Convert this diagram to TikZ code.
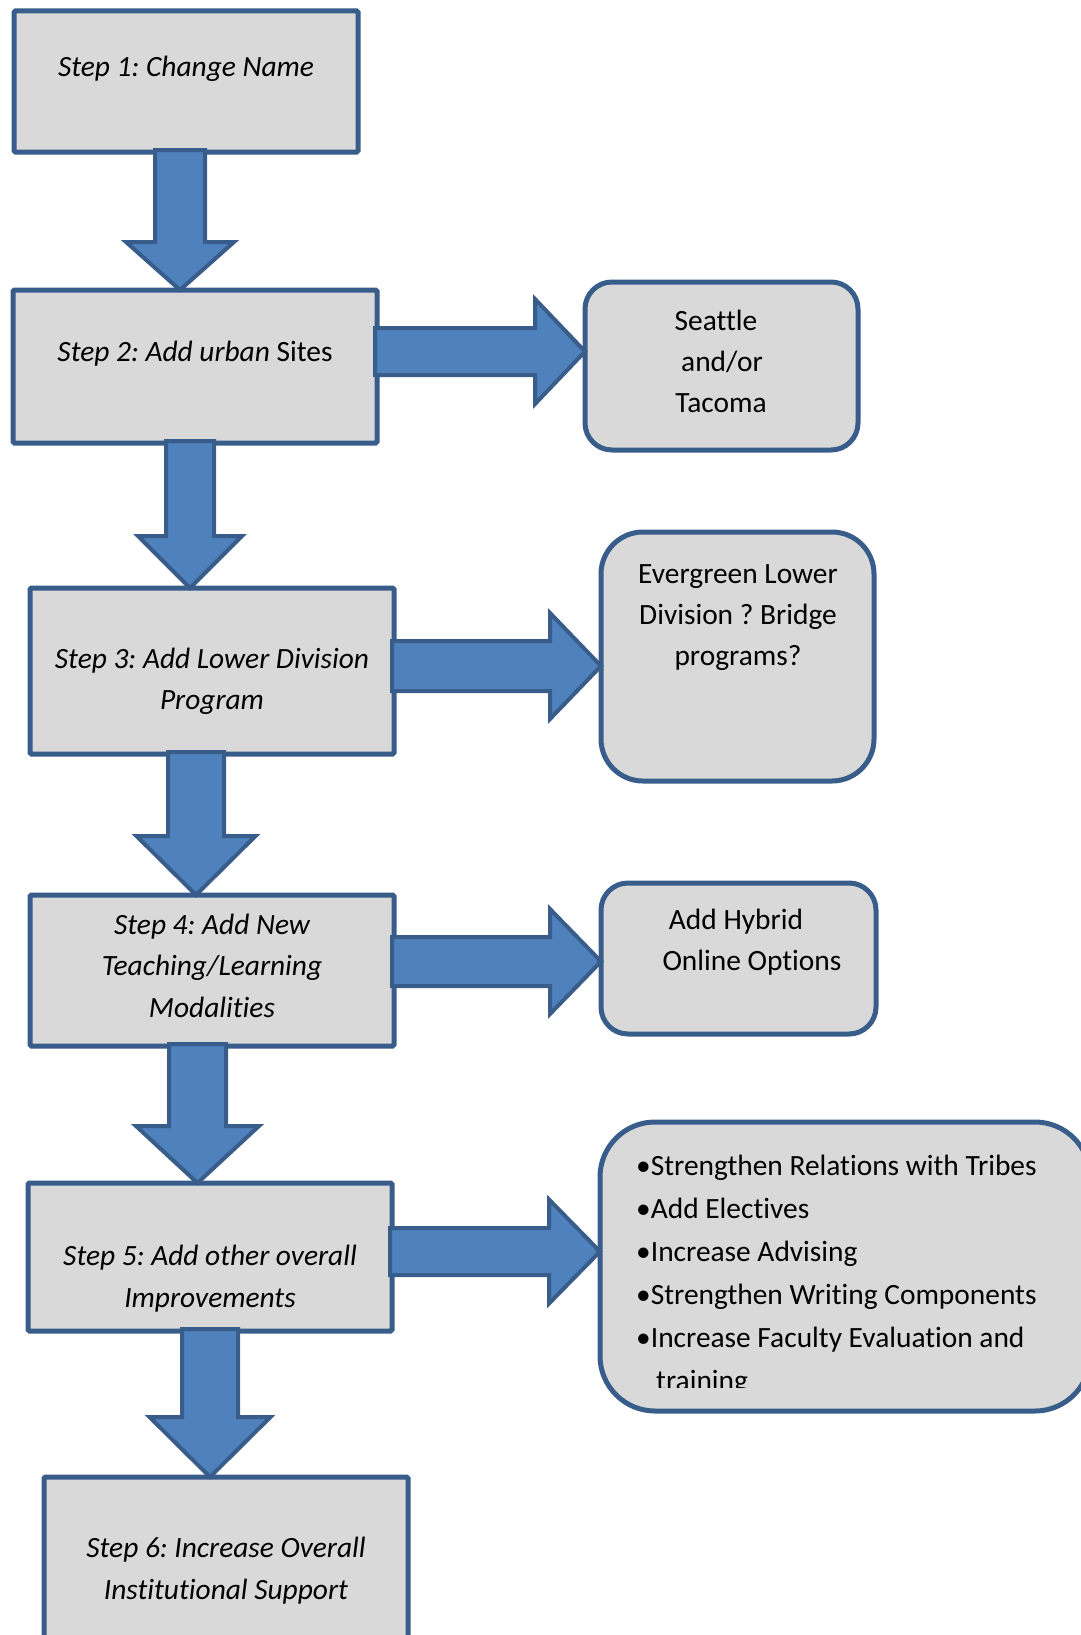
\documentclass[tikz,border=0pt]{standalone}
\usepackage{fontspec}
\setmainfont{Carlito}[Ligatures={NoCommon}]
\frenchspacing
\usetikzlibrary{calc}
\definecolor{boxfill}{HTML}{D9D9D9}
\definecolor{edgeblue}{HTML}{385D8A}
\definecolor{arrowfill}{HTML}{4F81BD}
\tikzset{
  stepbox/.style={draw=edgeblue, fill=boxfill, line width=5pt, rounded corners=1.5pt, inner sep=0pt, outer sep=0pt},
  sidebox/.style={draw=edgeblue, fill=boxfill, line width=5pt, inner sep=0pt, outer sep=0pt},
  bigarrow/.style={draw=edgeblue, fill=arrowfill, line width=4pt, line join=miter},
  txt/.style={anchor=base, inner sep=0pt},
  ltxt/.style={anchor=base west, inner sep=0pt}
}
\newcommand{\DownArrow}[6]{%
 \draw[bigarrow] let \p1=(#1.south), \p2=(#2.north) in
  ({(#3-#4)*1pt},{\y1+2pt}) -- ({(#3+#4)*1pt},{\y1+2pt}) -- ({(#3+#4)*1pt},{\y2+#6pt})
  -- ({(#3+#5)*1pt},{\y2+#6pt}) -- ({#3*1pt},{\y2}) -- ({(#3-#5)*1pt},{\y2+#6pt})
  -- ({(#3-#4)*1pt},{\y2+#6pt}) -- cycle;}
\newcommand{\RightArrow}[6]{%
 \draw[bigarrow] let \p1=(#1.east), \p2=(#2.west) in
  ({\x1-2pt},{(#3+#4)*1pt}) -- ({\x2-#6pt},{(#3+#4)*1pt}) -- ({\x2-#6pt},{(#3+#5)*1pt})
  -- ({\x2},{#3*1pt}) -- ({\x2-#6pt},{(#3-#5)*1pt}) -- ({\x2-#6pt},{(#3-#4)*1pt})
  -- ({\x1-2pt},{(#3-#4)*1pt}) -- cycle;}
\begin{document}
\begin{tikzpicture}[x=1pt,y=1pt,font=\fontsize{29.4}{41}\selectfont]
\useasboundingbox (0,0) rectangle (1081,-1635);
\clip (0,0) rectangle (1081,-1635);
% step boxes
\node[stepbox, minimum width=344pt, minimum height=141pt] (s1) at (186,-81.5) {};
\node[stepbox, minimum width=364pt, minimum height=153pt] (s2) at (195,-366.5) {};
\node[stepbox, minimum width=364pt, minimum height=166pt] (s3) at (212,-671) {};
\node[stepbox, minimum width=364pt, minimum height=151pt] (s4) at (212,-970.5) {};
\node[stepbox, minimum width=364pt, minimum height=148pt] (s5) at (210,-1257) {};
\node[stepbox, minimum width=364pt, minimum height=223pt] (s6) at (226,-1588.5) {};
% side boxes
\node[sidebox, rounded corners=27pt, minimum width=273pt, minimum height=168pt] (r2) at (721.5,-366) {};
\node[sidebox, rounded corners=42pt, minimum width=273pt, minimum height=249pt] (r3) at (737.5,-656.5) {};
\node[sidebox, rounded corners=27pt, minimum width=275pt, minimum height=151pt] (r4) at (738.5,-958.5) {};
\node[sidebox, rounded corners=55pt, minimum width=490pt, minimum height=289pt] (r5) at (845,-1266.5) {};
% down arrows
\DownArrow{s1}{s2}{180}{25}{54}{48}
\DownArrow{s2}{s3}{190}{24}{52}{52}
\DownArrow{s3}{s4}{196}{28}{59.5}{59}
\DownArrow{s4}{s5}{197.5}{28.5}{61.5}{57}
\DownArrow{s5}{s6}{210}{28}{60.5}{60}
% right arrows
\RightArrow{s2}{r2}{-351.5}{23.5}{52.5}{50}
\RightArrow{s3}{r3}{-666}{25}{53}{51}
\RightArrow{s4}{r4}{-961.5}{24.5}{52.5}{51}
\RightArrow{s5}{r5}{-1251.5}{23.5}{52}{51}
% step texts
\node[txt] at (186,-77) {\itshape Step 1: Change Name};
\node[txt] at (195,-361) {\textit{Step 2: Add urban} Sites};
\node[txt] at (212,-668) {\itshape Step 3: Add Lower Division};
\node[txt] at (212,-709) {\itshape Program};
\node[txt] at (212,-934) {\itshape Step 4: Add New};
\node[txt] at (212,-975) {\itshape Teaching/Learning};
\node[txt] at (212,-1017) {\itshape Modalities};
\node[txt] at (210,-1265) {\itshape Step 5: Add other overall};
\node[txt] at (210,-1307) {\itshape Improvements};
\node[txt] at (226,-1557) {\itshape Step 6: Increase Overall};
\node[txt] at (226,-1599) {\itshape Institutional Support};
% side texts
\node[txt] at (716,-330) {Seattle};
\node[txt] at (722,-371) {and/or};
\node[txt] at (721,-412) {Tacoma};
\node[txt] at (738,-583) {Evergreen Lower};
\node[txt] at (738,-624) {Division ? Bridge};
\node[txt] at (738,-665) {programs?};
\node[txt] at (736,-929) {Add Hybrid};
\node[txt] at (752,-970) {Online Options};
\node[ltxt] at (636,-1175) {•Strengthen Relations with Tribes};
\node[ltxt] at (636,-1218) {•Add Electives};
\node[ltxt] at (636,-1261) {•Increase Advising};
\node[ltxt] at (636,-1304) {•Strengthen Writing Components};
\node[ltxt] at (636,-1347) {•Increase Faculty Evaluation and};
\begin{scope}
\clip (600,-1300) rectangle (1000,-1387);
\node[ltxt] at (656,-1390) {training};
\end{scope}
\end{tikzpicture}
\end{document}
